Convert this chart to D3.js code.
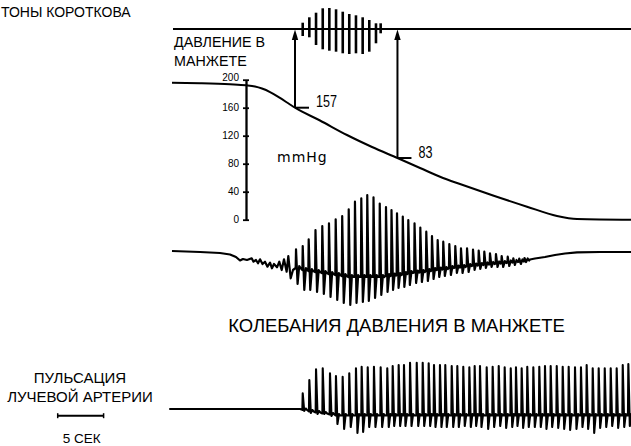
<!DOCTYPE html>
<html><head><meta charset="utf-8">
<script src="https://cdn.jsdelivr.net/npm/d3@7"></script>
<style>
body{margin:0;background:#fff}
svg{display:block}
text{font-family:"Liberation Sans",Arial,sans-serif;fill:#000}
</style>
</head><body><svg id="c" width="631" height="446"></svg>
<script>
// ---------- DATA (time in seconds) ----------
const cuffTime = [0, 3.05, 6.32, 8.06, 9.04, 9.80, 10.68, 11.76, 12.85, 13.40, 16.12, 19.06, 21.79, 24.56, 27.02, 29.52, 31.37, 34.97, 38.67, 41.94, 44.12, 50];
const cuffPressure = [195.7, 194.9, 193.4, 192.0, 190.3, 187.4, 182.4, 173.9, 164.6, 160.0, 141.7, 121.0, 103.9, 88.1, 73.9, 59.6, 51.0, 34.6, 18.6, 5.3, 1.0, 0];
const pressureTicks = [0, 40, 80, 120, 160, 200];

const korTime = [14.24, 14.96, 15.69, 16.42, 17.14, 17.87, 18.60, 19.31, 20.04, 20.77, 21.49, 22.22, 22.73];
const korUp = [6.3, 11.7, 16.3, 20.7, 21, 19.7, 17.3, 15, 13.7, 11.7, 9, 5.7, 5.7];
const korDown = [7, 8.3, 16, 20.3, 21.7, 22.7, 24.3, 25, 24.3, 25, 22.7, 14.3, 4.3];

const markerTime = [13.40, 24.56];
const markerLabel = ["157", "83"];

const oscLeadTime = [0, 3.05, 5.23, 6.32, 6.97, 7.41, 7.73, 8.17, 8.68, 8.88, 9.15, 9.37, 9.59, 9.86, 10.13, 10.40, 10.68, 10.89, 11.11, 11.44, 11.69, 11.95, 12.20, 12.49, 12.67, 12.93, 13.18];
const oscLeadValue = [1, 0, -1, -2.5, -5, -8.5, -7, -8, -6.3, -9.7, -8, -11.3, -7.3, -12, -9.7, -14.7, -10.7, -16.3, -12, -15.3, -9.7, -18, -7.3, -19.7, -4, -26.3, -18];
const oscBeatTime = [13.51, 14.24, 14.89, 15.63, 16.37, 17.10, 17.83, 18.54, 19.25, 19.93, 20.62, 21.27, 21.95, 22.63, 23.31, 23.91, 24.51, 25.14, 25.74, 26.42, 27.05, 27.70, 28.32, 28.94, 29.55, 30.21, 30.86, 31.48, 32.14, 32.79, 33.41, 34.02, 34.64, 35.29, 35.91, 36.57, 37.18, 37.83, 38.40];
const oscPeak = [2.7, 6, 12.7, 22, 26, 28.7, 32.7, 36, 42.7, 50.3, 53.7, 57, 54.7, 48.5, 45, 42, 38.7, 35.5, 32, 28.7, 24.5, 20.3, 16, 12, 10.3, 8, 6, 3.7, 3.7, 2.5, 1.5, 0.3, -1.3, -2, -4, -4.7, -6.3, -6.5, -6];
const oscTrough = [-32, -38, -38, -40, -42, -45, -48, -51, -53, -51, -50, -49, -46, -43, -40, -38, -36, -35, -33, -31, -30, -29, -27, -25, -24, -23, -21, -21, -20, -18, -17, -16, -15, -15, -15, -14, -13, -12, -10];
const oscBase = [-16, -18, -19, -20, -21, -22, -23, -24, -25, -25, -25, -25, -25, -25, -24, -23.5, -23, -22, -21, -20.5, -20, -19, -18, -17.5, -17, -16, -15.5, -15, -14, -13.5, -13, -12.5, -12, -11.5, -11, -10.5, -10, -9.5, -8.5];
const oscTailTime = [39.0, 39.54, 40.63, 41.72, 42.81, 44.12, 46.62, 50];
const oscTailValue = [-7.5, -6.5, -5, -3, -1.5, -0.3, 0, 0];

const pulseLeadTime = [-0.3, 13.94, 14.12];
const pulseLeadValue = [0, 0, -0.5];
const pulseBeatTime = [14.24, 14.96, 15.69, 16.42, 17.21, 17.86, 18.59, 19.31, 20.04, 20.66, 21.32, 22.00, 22.73, 23.45, 24.04, 24.69, 25.27, 25.93, 26.66, 27.31, 27.96, 28.54, 29.19, 29.77, 30.47, 31.08, 31.73, 32.39, 32.97, 33.55, 34.28, 34.93, 35.59, 36.24, 36.90, 37.47, 38.09, 38.70, 39.36, 40.01, 40.63, 41.25, 41.91, 42.56, 43.21, 43.90, 44.55, 45.17, 45.83, 46.48, 47.14, 47.79, 48.44, 49.10, 49.71];
const pulsePeak = [15.7, 29, 39.7, 40.7, 35.7, 33, 32.3, 35.7, 40.7, 42.3, 41.7, 42.3, 41.7, 40.7, 43, 44, 44, 46.3, 46.3, 46.3, 45.7, 44, 44, 44, 43, 43, 42.3, 41.7, 43, 43, 41.7, 42.3, 43, 41.7, 40.7, 41.7, 40.7, 42.3, 41.7, 42.3, 43, 43, 43, 42.3, 42.3, 41.7, 41.7, 44, 40.7, 40.7, 40.7, 40.7, 40.7, 44, 45];
const pulseTrough = [-2, -4, -5, -5, -7, -15, -20, -18, -24, -23, -18, -18, -18, -18, -17, -17, -17, -17, -17, -17, -17, -18, -18, -18, -18, -18, -17, -18, -17, -18, -20, -18, -17, -19, -18, -17, -19, -18, -18, -18, -20, -18, -19, -20, -21, -20, -18, -20, -24, -19, -18, -17, -19, -18, -17];
const pulseBase = [-1, -2.5, -3.5, -4.5, -5.5, -6.5, -6.5, -6.5, -6.5, -6.5, -6.5, -6.5, -6.5, -6.5, -6.5, -6.5, -6.5, -6.5, -6.5, -6.5, -6.5, -6.5, -6.5, -6.5, -6.5, -6.5, -6.5, -6.5, -6.5, -6.5, -6.5, -6.5, -6.5, -6.5, -6.5, -6.5, -6.5, -6.5, -6.5, -6.5, -6.5, -6.5, -6.5, -6.5, -6.5, -6.5, -6.5, -6.5, -6.5, -6.5, -6.5, -6.5, -6.5, -6.5, -6.5];

const scaleBarSeconds = 5;
const titleKorotkoff = "ТОНЫ КОРОТКОВА";
const cuffLabelLines = ["ДАВЛЕНИЕ В", "МАНЖЕТЕ"];
const unitLabel = "mmHg";
const oscLabel = "КОЛЕБАНИЯ ДАВЛЕНИЯ В МАНЖЕТЕ";
const pulseLabelLines = ["ПУЛЬСАЦИЯ", "ЛУЧЕВОЙ АРТЕРИИ"];
const scaleBarLabel = "5 СЕК";

// ---------- SCALES ----------
const svg = d3.select("#c");
const x = d3.scaleLinear().domain([0, 50]).range([172, 631]);
const kY = d3.scaleLinear().domain([-30, 30]).range([59, -1]);      // Korotkoff
const pY = d3.scaleLinear().domain([0, 200]).range([219.7, 79.7]);  // cuff pressure
const oY = d3.scaleLinear().domain([-60, 60]).range([312, 192]);    // oscillations
const plY = d3.scaleLinear().domain([-30, 60]).range([439, 349]);   // pulse

// ---------- KOROTKOFF ----------
svg.append("line").attr("x1", x(0) + 1).attr("x2", 631).attr("y1", kY(0)).attr("y2", kY(0))
  .attr("stroke", "#000").attr("stroke-width", 2);
svg.append("g").selectAll("line").data(korTime).join("line")
  .attr("x1", d => x(d)).attr("x2", d => x(d))
  .attr("y1", (d, i) => kY(korUp[i])).attr("y2", (d, i) => kY(-korDown[i]))
  .attr("stroke", "#000").attr("stroke-width", 2.6);

// ---------- CUFF PRESSURE ----------
const cuffPts = cuffTime.map((t, i) => [t, cuffPressure[i]]);
svg.append("path").datum(cuffPts)
  .attr("d", d3.line().x(d => x(d[0])).y(d => pY(d[1])).curve(d3.curveMonotoneX))
  .attr("fill", "none").attr("stroke", "#000").attr("stroke-width", 2);

function cuffAt(t) {
  const i = d3.bisectLeft(cuffTime, t);
  if (i <= 0) return cuffPressure[0];
  if (i >= cuffTime.length) return cuffPressure[cuffPressure.length - 1];
  const t0 = cuffTime[i - 1], t1 = cuffTime[i];
  return cuffPressure[i - 1] + (cuffPressure[i] - cuffPressure[i - 1]) * (t - t0) / (t1 - t0);
}

// axis
const axisX = 246;
const ax = svg.append("g").attr("transform", `translate(${axisX},0)`)
  .call(d3.axisLeft(pY).tickValues(pressureTicks).tickSize(3).tickSizeOuter(0).tickPadding(4));
ax.select(".domain").attr("stroke-width", 2.3).attr("stroke", "#000");
ax.selectAll(".tick line").attr("x1", 3).attr("stroke-width", 1.8).attr("stroke", "#000");
ax.selectAll(".tick text").style("font-family", '"Liberation Sans",Arial,sans-serif').style("font-size", "10px").attr("fill", "#000");
ax.selectAll(".tick text").filter(d => d === 200).attr("dy", "0.05em");

// markers & arrows
markerTime.forEach((t, i) => {
  const mx = x(t), my = pY(cuffAt(t));
  svg.append("line").attr("x1", mx).attr("x2", mx).attr("y1", my).attr("y2", kY(0) + 9)
    .attr("stroke", "#000").attr("stroke-width", 2);
  svg.append("path").attr("d", `M${mx},${kY(0) + 0.5} L${mx - 3.2},${kY(0) + 11} L${mx + 3.2},${kY(0) + 11} Z`)
    .attr("fill", "#000");
  svg.append("line").attr("x1", mx).attr("x2", mx + 14).attr("y1", my).attr("y2", my)
    .attr("stroke", "#000").attr("stroke-width", 2);
  svg.append("text").attr("x", mx + 21).attr("y", my - 0.5)
    .attr("textLength", markerLabel[i].length * 7).attr("lengthAdjust", "spacingAndGlyphs")
    .style("font-size", "16px").text(markerLabel[i]);
});

// ---------- OSCILLATIONS ----------
const oscPts = oscLeadTime.map((t, i) => [t, oscLeadValue[i]]);
oscBeatTime.forEach((t, i) => {
  const b = oscBase[i];
  oscPts.push([t - 0.04, b], [t, oscPeak[i]], [t + 0.17, oscTrough[i]], [t + 0.35, b + 2], [t + 0.5, b]);
});
oscTailTime.forEach((t, i) => oscPts.push([t, oscTailValue[i]]));
svg.append("path").datum(oscPts)
  .attr("d", d3.line().x(d => x(d[0])).y(d => oY(d[1])))
  .attr("fill", "none").attr("stroke", "#000").attr("stroke-width", 2.2).attr("stroke-linejoin", "round");

// ---------- PULSE ----------
const pulsePts = pulseLeadTime.map((t, i) => [t, pulseLeadValue[i]]);
pulseBeatTime.forEach((t, i) => {
  const b = pulseBase[i];
  pulsePts.push([t - 0.04, b], [t, pulsePeak[i]], [t + 0.16, pulseTrough[i]], [t + 0.33, b + 1.5], [t + 0.48, b]);
});
svg.append("path").datum(pulsePts)
  .attr("d", d3.line().x(d => x(d[0])).y(d => plY(d[1])))
  .attr("fill", "none").attr("stroke", "#000").attr("stroke-width", 2.1).attr("stroke-linejoin", "round");

// ---------- TEXTS ----------
svg.append("text").attr("x", 1).attr("y", 16.5).style("font-size", "14px").text(titleKorotkoff);
cuffLabelLines.forEach((s, i) => svg.append("text").attr("x", 174).attr("y", 46.5 + i * 19).style("font-size", "14.3px").text(s));
svg.append("text").attr("x", 277).attr("y", 161.5)
  .style("font-family", '"DejaVu Sans",sans-serif').style("font-size", "14px").style("letter-spacing", "1px").text(unitLabel);
svg.append("text").attr("x", 396.5).attr("y", 332).attr("text-anchor", "middle").style("font-size", "18.5px").text(oscLabel);
pulseLabelLines.forEach((s, i) => svg.append("text").attr("x", 80).attr("y", 382.5 + i * 19).attr("text-anchor", "middle").style("font-size", "15px").text(s));

// scale bar (5 s)
const sbW = x(scaleBarSeconds) - x(0), sbX = 57.7, sbY = 415.7;
svg.append("line").attr("x1", sbX).attr("x2", sbX + sbW).attr("y1", sbY).attr("y2", sbY).attr("stroke", "#000").attr("stroke-width", 2);
[sbX, sbX + sbW].forEach(v => svg.append("line").attr("x1", v).attr("x2", v).attr("y1", sbY - 2.5).attr("y2", sbY + 2.5).attr("stroke", "#000").attr("stroke-width", 1.5));
svg.append("text").attr("x", sbX + sbW / 2 + 1).attr("y", 443).attr("text-anchor", "middle").style("font-size", "13.5px").text(scaleBarLabel);
</script>
</body></html>
